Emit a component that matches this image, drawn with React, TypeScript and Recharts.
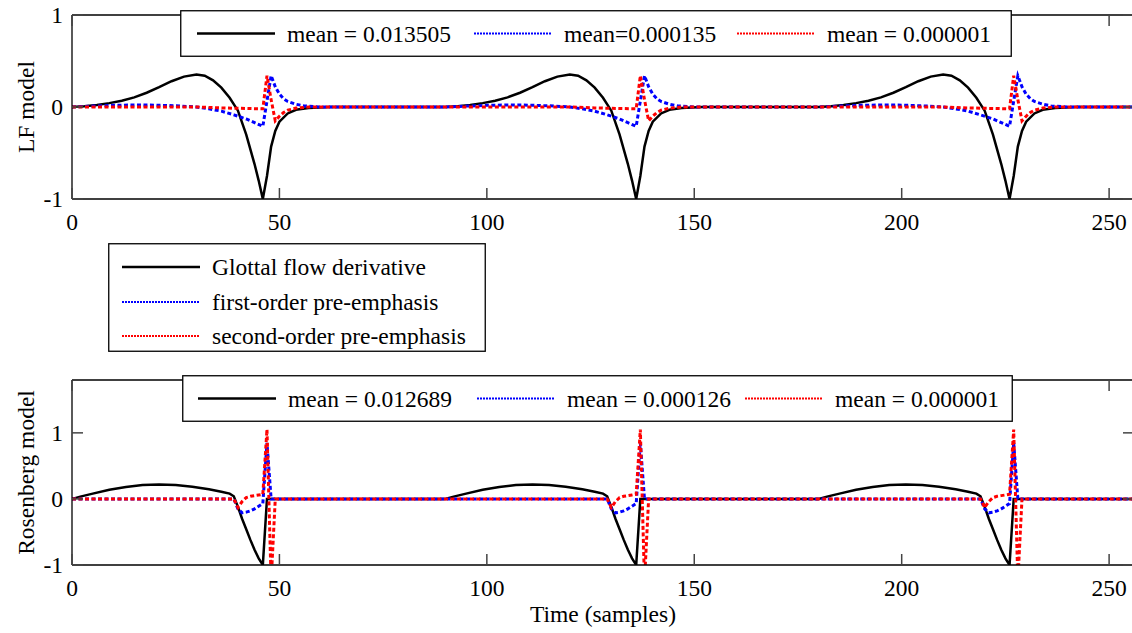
import { LineChart, Line, XAxis, YAxis, Legend, Label } from 'recharts'

type Pt = [number, number]

// one glottal period, [sample offset, amplitude]; repeated every 90 samples
const CYCLE_STARTS = [0, 90, 180]
const X_TICKS = [0, 50, 100, 150, 200, 250]
const Y_TICKS = [-1, 0, 1]

const LF_GLOTTAL: Pt[] = [
  [0, 0], [3, 0.008], [6, 0.022], [9, 0.042], [12, 0.068], [15, 0.105], [18, 0.155], [21, 0.215],
  [24, 0.28], [27, 0.33], [30, 0.352], [32, 0.34], [34, 0.29], [36, 0.21], [38, 0.1], [40, -0.04],
  [42, -0.3], [44, -0.62], [45, -0.8], [46, -1], [47, -0.75], [48, -0.43], [49, -0.26], [50, -0.16],
  [52, -0.07], [54, -0.03], [57, -0.01], [62, 0], [90, 0],
]
const LF_FIRST: Pt[] = [
  [0, 0], [5, 0.01], [10, 0.018], [15, 0.022], [20, 0.02], [25, 0.013], [30, 0], [33, -0.02],
  [36, -0.045], [39, -0.085], [42, -0.13], [44, -0.17], [46, -0.21], [48, 0.34], [49, 0.22],
  [50, 0.14], [51, 0.09], [52, 0.06], [54, 0.03], [56, 0.012], [60, 0], [90, 0],
]
const LF_SECOND: Pt[] = [
  [0, 0], [30, 0], [36, -0.01], [46, -0.02], [47, 0.34], [48, 0.08], [49, -0.15], [50, -0.1],
  [51, -0.06], [52, -0.035], [54, -0.012], [57, 0], [90, 0],
]

const ROS_GLOTTAL: Pt[] = [
  [0, 0], [2, 0.035], [5, 0.08], [9, 0.14], [13, 0.18], [17, 0.21], [21, 0.22], [25, 0.21],
  [29, 0.185], [33, 0.145], [36, 0.11], [38, 0.08], [39, 0.04], [40, -0.12], [41, -0.3],
  [42, -0.46], [43, -0.62], [44, -0.77], [45, -0.9], [46, -1], [47, 0], [90, 0],
]
const ROS_FIRST: Pt[] = [
  [0, 0], [39, 0], [40, -0.15], [41, -0.21], [42, -0.2], [43, -0.18], [44, -0.15], [45, -0.11],
  [46, -0.07], [47, 0.85], [48, 0], [90, 0],
]
const ROS_SECOND: Pt[] = [
  [0, 0], [39, 0], [40, -0.13], [41, -0.04], [42, 0.02], [43, 0.04], [44, 0.05], [45, 0.06],
  [46, 0.07], [47, 1.05], [48, -1.25], [49, 0], [90, 0],
]

const LF_MEANS = ['mean = 0.013505', 'mean=0.000135', 'mean = 0.000001']
const ROS_MEANS = ['mean = 0.012689', 'mean = 0.000126', 'mean = 0.000001']
const SERIES_NAMES = ['Glottal flow derivative', 'first-order pre-emphasis', 'second-order pre-emphasis']

const FONT = '"Liberation Serif", "Times New Roman", serif'
const FS = 23.5
const TICK_LEN = 11
const STYLES = [
  { stroke: '#000000', width: 2.5, dash: undefined, legendDash: undefined, legendWidth: 2.5 },
  { stroke: '#0000ff', width: 3, dash: '4 2.5', legendDash: '2 1', legendWidth: 2 },
  { stroke: '#ff0000', width: 3, dash: '4 2.5', legendDash: '2 1', legendWidth: 2 },
]

const tile = (cycle: Pt[]) =>
  CYCLE_STARTS.flatMap((start) => cycle.map(([t, v]) => ({ t: start + t, v })))

const axisLine = { stroke: '#000', strokeWidth: 1.3 }
const tickStroke = { stroke: '#444', strokeWidth: 1.5 }

function BottomTick({ x, y, payload }: any) {
  return (
    <g>
      <line x1={x} y1={y} x2={x} y2={y - TICK_LEN} {...tickStroke} />
      <text x={x} y={y + 31} textAnchor="middle" fontSize={FS} fontFamily={FONT} fill="#000">
        {payload.value}
      </text>
    </g>
  )
}

function TopTick({ x, y }: any) {
  return <line x1={x} y1={y} x2={x} y2={y + TICK_LEN} {...tickStroke} />
}

function LeftTick({ x, y, payload }: any) {
  return (
    <g>
      <line x1={x} y1={y} x2={x + TICK_LEN} y2={y} {...tickStroke} />
      <text x={x - 9} y={y + 8} textAnchor="end" fontSize={FS} fontFamily={FONT} fill="#000">
        {payload.value}
      </text>
    </g>
  )
}

function RightTick({ x, y }: any) {
  return <line x1={x - TICK_LEN} y1={y} x2={x} y2={y} {...tickStroke} />
}

function SampleLine({ x, y, i }: { x: number; y: number; i: number }) {
  const s = STYLES[i]
  return (
    <line x1={x} x2={x + 78} y1={y} y2={y} stroke={s.stroke} strokeWidth={s.legendWidth}
      strokeDasharray={s.legendDash} />
  )
}

function MeanLegend({ labels, xs, width, height }: { labels: string[]; xs: number[]; width: number; height: number }) {
  const cy = height / 2
  return (
    <svg width={width} height={height} style={{ display: 'block' }}>
      <rect x={0.75} y={0.75} width={width - 1.5} height={height - 1.5} fill="#fff" stroke="#000" strokeWidth={1.3} />
      {labels.map((label, i) => (
        <g key={label + i}>
          <SampleLine x={xs[i]} y={cy} i={i} />
          <text x={xs[i] + 90} y={cy + 8} fontSize={FS} fontFamily={FONT} fill="#000">{label}</text>
        </g>
      ))}
    </svg>
  )
}

interface PanelProps {
  height: number
  topAxis: number
  bottomAxis: number
  yDomain: [number, number]
  series: Pt[][]
  yLabel: string
  xLabel?: string
  means: string[]
  legend: { left: number; top: number; width: number; height: number; xs: number[] }
}

function Panel({ height, topAxis, bottomAxis, yDomain, series, yLabel, xLabel, means, legend }: PanelProps) {
  return (
    <LineChart width={1150} height={height} margin={{ top: 0, right: 0, bottom: 0, left: 0 }}>
      <XAxis dataKey="t" type="number" domain={[0, 256]} ticks={X_TICKS} interval={0} allowDataOverflow
        height={bottomAxis} axisLine={axisLine} tickLine={false} tickSize={0} tickMargin={0}
        tick={(p: any) => <BottomTick {...p} />}>
        {xLabel && (
          <Label content={({ viewBox }: any) => (
            <text x={viewBox.x + viewBox.width / 2} y={viewBox.y + 57} textAnchor="middle"
              fontSize={FS} fontFamily={FONT} fill="#000">{xLabel}</text>
          )} />
        )}
      </XAxis>
      <XAxis xAxisId="top" orientation="top" dataKey="t" type="number" domain={[0, 256]} ticks={X_TICKS}
        interval={0} allowDataOverflow height={topAxis} axisLine={axisLine} tickLine={false} tickSize={0}
        tickMargin={0} tick={(p: any) => <TopTick {...p} />} />
      <YAxis type="number" domain={yDomain} ticks={Y_TICKS} interval={0} allowDataOverflow width={72}
        axisLine={axisLine} tickLine={false} tickSize={0} tickMargin={0} tick={(p: any) => <LeftTick {...p} />}>
        <Label content={({ viewBox }: any) => {
          const cx = viewBox.x + 26
          const cy = viewBox.y + viewBox.height / 2
          return (
            <text x={cx} y={cy} transform={`rotate(-90 ${cx} ${cy})`} textAnchor="middle"
              dominantBaseline="central" fontSize={FS} fontFamily={FONT} fill="#000">{yLabel}</text>
          )
        }} />
      </YAxis>
      <YAxis yAxisId="right" orientation="right" type="number" domain={yDomain} ticks={Y_TICKS} interval={0}
        allowDataOverflow width={16} axisLine={axisLine} tickLine={false} tickSize={0} tickMargin={0}
        tick={(p: any) => <RightTick {...p} />} />
      {series.map((pts, i) => (
        <Line key={i} data={tile(pts)} dataKey="v" type="linear" dot={false} activeDot={false}
          stroke={STYLES[i].stroke} strokeWidth={STYLES[i].width} strokeDasharray={STYLES[i].dash}
          isAnimationActive={false} />
      ))}
      <Legend layout="horizontal" verticalAlign="middle" align="center"
        wrapperStyle={{ left: legend.left, top: legend.top, width: legend.width, height: legend.height }}
        content={() => <MeanLegend labels={means} xs={legend.xs} width={legend.width} height={legend.height} />} />
    </LineChart>
  )
}

function SeriesLegend() {
  const rows = [24, 59, 93]
  return (
    <svg width={378} height={109} style={{ position: 'absolute', left: 108, top: 243, display: 'block' }}>
      <rect x={0.75} y={0.75} width={376.5} height={107.5} fill="#fff" stroke="#000" strokeWidth={1.3} />
      {SERIES_NAMES.map((name, i) => (
        <g key={name}>
          <SampleLine x={14} y={rows[i]} i={i} />
          <text x={104} y={rows[i] + 8} fontSize={FS} fontFamily={FONT} fill="#000">{name}</text>
        </g>
      ))}
    </svg>
  )
}

export default function App() {
  return (
    <div style={{ position: 'absolute', left: 0, top: 0, width: 1132, height: 633, overflow: 'hidden', background: '#fff' }}>
      <div style={{ position: 'absolute', left: 0, top: 0 }}>
        <Panel height={240} topAxis={15} bottomAxis={41} yDomain={[-1, 1]}
          series={[LF_GLOTTAL, LF_FIRST, LF_SECOND]} yLabel="LF model" means={LF_MEANS}
          legend={{ left: 180, top: 10, width: 832, height: 47, xs: [17, 294, 557] }} />
      </div>
      <div style={{ position: 'absolute', left: 0, top: 360 }}>
        <Panel height={273} topAxis={20} bottomAxis={68} yDomain={[-1, 1.8]}
          series={[ROS_GLOTTAL, ROS_FIRST, ROS_SECOND]} yLabel="Rosenberg model" xLabel="Time (samples)"
          means={ROS_MEANS} legend={{ left: 182, top: 15, width: 831, height: 47, xs: [16, 295, 563] }} />
      </div>
      <SeriesLegend />
    </div>
  )
}
